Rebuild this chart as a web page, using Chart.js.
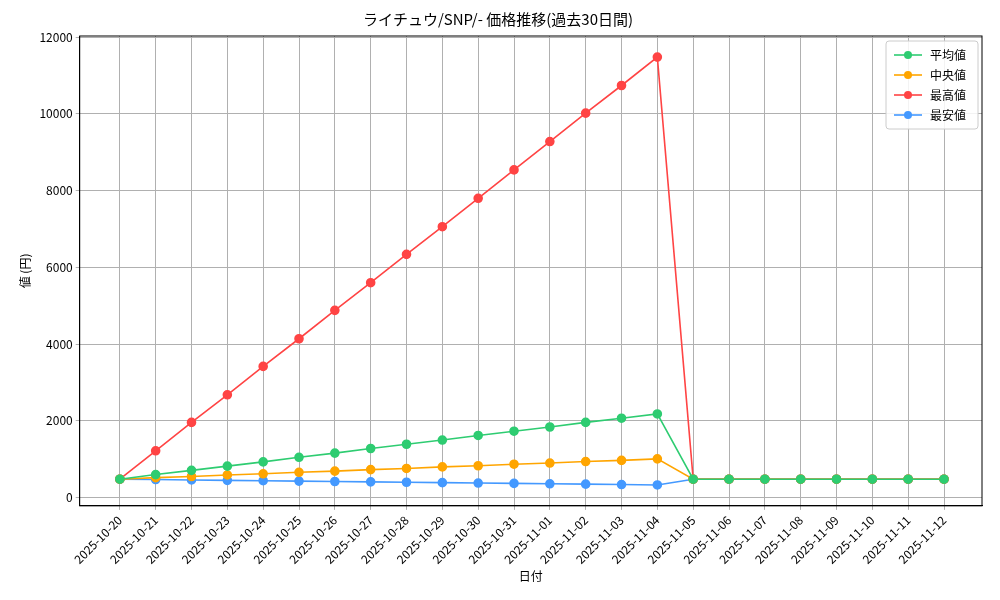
<!DOCTYPE html>
<html><head><meta charset="utf-8">
<script src="https://cdn.jsdelivr.net/npm/chart.js@4"></script>
<style>body{margin:0;background:#fff}</style></head>
<body><canvas id="c" width="1000" height="600"></canvas>
<script>
const dates=["2025-10-20","2025-10-21","2025-10-22","2025-10-23","2025-10-24","2025-10-25","2025-10-26","2025-10-27","2025-10-28","2025-10-29","2025-10-30","2025-10-31","2025-11-01","2025-11-02","2025-11-03","2025-11-04","2025-11-05","2025-11-06","2025-11-07","2025-11-08","2025-11-09","2025-11-10","2025-11-11","2025-11-12"];
const avgVals=[480,600,710,820,930,1050,1160,1280,1390,1500,1620,1730,1840,1960,2070,2180,480,480,480,480,480,480,480,480];
const medVals=[480,520,550,590,620,660,690,730,760,800,830,870,900,940,970,1010,480,480,480,480,480,480,480,480];
const maxVals=[480,1220,1960,2680,3420,4140,4880,5600,6340,7060,7800,8540,9280,10020,10740,11480,480,480,480,480,480,480,480,480];
const minVals=[480,470,460,450,440,430,420,410,400,390,380,370,360,350,340,330,480,480,480,480,480,480,480,480];
const yTicks=[0,2000,4000,6000,8000,10000,12000];
const F="'Noto Sans CJK JP', 'DejaVu Sans', sans-serif";
Chart.defaults.font.family=F;Chart.defaults.color="#000";
function ds(label,vals,color){return{label,data:vals.map((v,i)=>({x:i,y:v})),borderColor:color,backgroundColor:color,pointRadius:4,pointHoverRadius:4,borderWidth:1.6};}
const legendPlugin={id:'lg',afterDraw(ch){const c=ch.ctx,a=ch.chartArea;
c.save();c.strokeStyle='#000';c.lineWidth=1;c.strokeRect(a.left,a.top,a.right-a.left,a.bottom-a.top);
const w=92,h=88,x=a.right-w-4,y=a.top+5;
c.fillStyle='rgba(255,255,255,0.85)';c.strokeStyle='#ccc';c.beginPath();c.roundRect(x,y,w,h,3);c.fill();c.stroke();
c.font="12px "+F;c.textBaseline='middle';ch.data.datasets.forEach((d,i)=>{const yy=y+14+i*20;c.strokeStyle=d.borderColor;c.lineWidth=1.6;c.beginPath();c.moveTo(x+8,yy);c.lineTo(x+36,yy);c.stroke();c.fillStyle=d.borderColor;c.beginPath();c.arc(x+22,yy,4,0,7);c.fill();c.fillStyle='#000';c.fillText(d.label,x+44,yy);});c.restore();}};
new Chart(document.getElementById('c'),{type:'line',data:{datasets:[ds('平均値',avgVals,'#2ecc71'),ds('中央値',medVals,'#ffa500'),ds('最高値',maxVals,'#ff4444'),ds('最安値',minVals,'#4499ff')]},
options:{responsive:false,animation:false,layout:{padding:{left:14,right:18,top:4,bottom:16}},
plugins:{legend:{display:false},tooltip:{enabled:false},title:{display:true,text:'ライチュウ/SNP/- 価格推移(過去30日間)',font:{size:15,weight:'normal'},padding:{top:6,bottom:8}}},
scales:{x:{type:'linear',min:-1.12,max:24.06,afterBuildTicks(s){s.ticks=dates.map((d,i)=>({value:i}));},ticks:{callback:(v)=>dates[v],minRotation:45,maxRotation:45,font:{size:12},autoSkip:false},grid:{color:'#b0b0b0',drawTicks:true,tickLength:4},border:{color:'#000'},title:{display:true,text:'日付',font:{size:12},padding:0}},
y:{min:-215,max:12030,afterBuildTicks(s){s.ticks=yTicks.map(v=>({value:v}));},ticks:{font:{size:12},callback:(v)=>String(v)},grid:{color:'#b0b0b0',tickLength:4},border:{color:'#000'},title:{display:true,text:'値 (円)',font:{size:12}}}}},
plugins:[legendPlugin]});
</script></body></html>
